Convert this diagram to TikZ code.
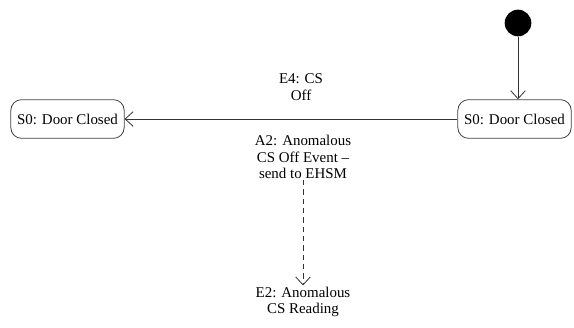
\documentclass[tikz,border=0pt]{standalone}
\usepackage{fontspec}
\setmainfont{Liberation Serif}
\usetikzlibrary{arrows.meta}
\begin{document}
\begin{tikzpicture}[x=0.75pt,y=-0.75pt,
  state/.style={draw=black!75, line width=0.6pt, rounded corners=8pt, minimum width=85pt, minimum height=29pt, inner sep=0pt, font=\fontsize{11.2}{13}\selectfont},
  lbl/.style={align=center, inner sep=1pt, font=\fontsize{11.2}{12.2}\selectfont},
  tr/.style={draw=black!80, line width=0.6pt, -{Straight Barb[length=6pt,width=11pt]}}]
\useasboundingbox (0,0) rectangle (574,328);
\node[circle, fill=black, minimum size=20pt, inner sep=0pt] (init) at (518,23) {};
\node[state] (r) at (514.5,119) {S0: Door Closed};
\node[state] (l) at (67.5,119) {S0: Door Closed};
\draw[tr] (init) -- (init |- r.north);
\draw[tr] (r) -- (l);
\node[lbl] (e4) at (301,87) {E4: CS\\Off};
\node[lbl] (a2) at (303,157) {A2: Anomalous\\CS Off Event –\\send to EHSM};
\node[lbl] (e2) at (303,302) {E2: Anomalous\\CS Reading};
\draw[tr, dash pattern=on 4pt off 3pt] (a2.south) -- (e2.north);
\end{tikzpicture}
\end{document}
